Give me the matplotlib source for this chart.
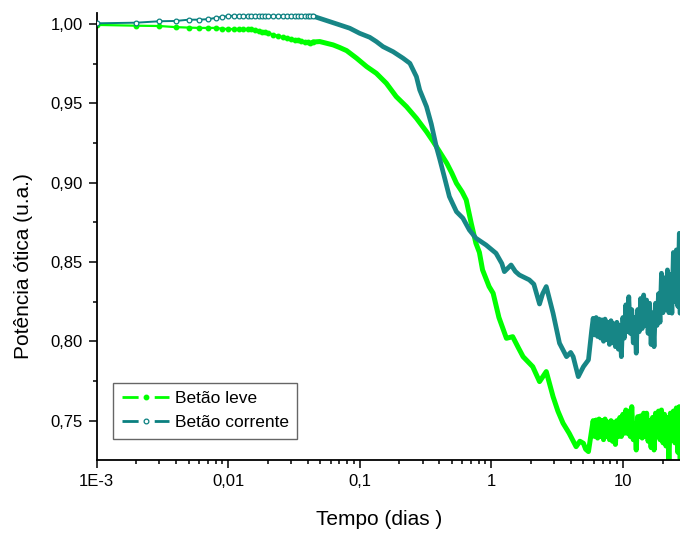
import matplotlib
matplotlib.use("Agg")
import matplotlib.pyplot as plt
from matplotlib.lines import Line2D
from matplotlib.ticker import FixedLocator, FuncFormatter, LogLocator, NullFormatter

plt.rcParams['font.family'] = ['Liberation Sans', 'DejaVu Sans']

# early readings share the same time grid (days)
t_early = [0.001, 0.002, 0.003, 0.004, 0.005, 0.006, 0.007, 0.008, 0.009, 0.010,
           0.011, 0.012, 0.013, 0.014, 0.015, 0.016, 0.017, 0.018, 0.019, 0.020,
           0.022, 0.024, 0.026, 0.028, 0.030, 0.032, 0.034, 0.036, 0.038, 0.040,
           0.042, 0.044]

# late readings (days), also shared by both series
t_late = [5.78, 5.93, 6.09, 6.25, 6.41, 6.58, 6.75, 6.93, 7.11, 7.30,
          7.49, 7.69, 7.89, 8.10, 8.31, 8.53, 8.75, 8.98, 9.22, 9.46,
          9.71, 9.97, 10.23, 10.50, 10.78, 11.06, 11.35, 11.65, 11.96, 12.27,
          12.60, 12.93, 13.27, 13.62, 13.98, 14.35, 14.72, 15.11, 15.51, 15.92,
          16.34, 16.77, 17.21, 17.66, 18.13, 18.61, 19.10, 19.60, 20.12, 20.65,
          21.19, 21.75, 22.32, 22.91, 23.52, 24.14, 24.77, 25.43, 26.10, 26.78,
          27.10]

# Betão leve (lightweight concrete)
leve_early = [0.9994, 0.9989, 0.9987, 0.9980, 0.9977, 0.9975, 0.9975, 0.9975, 0.9970, 0.9968,
              0.9968, 0.9968, 0.9968, 0.9968, 0.9966, 0.9962, 0.9958, 0.9952, 0.9950, 0.9946,
              0.9932, 0.9925, 0.9916, 0.9912, 0.9905, 0.9900, 0.9897, 0.9893, 0.9889, 0.9884,
              0.9882, 0.9886]
leve_mid_t = [0.0496, 0.056, 0.0626, 0.070, 0.0793, 0.0945, 0.1127, 0.1334, 0.159, 0.189,
              0.226, 0.269, 0.321, 0.360, 0.40, 0.458, 0.50, 0.542, 0.60, 0.643,
              0.702, 0.762, 0.81, 0.856, 0.96, 1.03, 1.14, 1.30, 1.45, 1.60,
              1.74, 2.06, 2.32, 2.61, 2.94, 3.2, 3.5, 3.9, 4.4, 4.7,
              5.0, 5.2, 5.46]
leve_mid = [0.9889, 0.9878, 0.9868, 0.9852, 0.9832, 0.9784, 0.9731, 0.9689, 0.9626, 0.9542,
            0.9479, 0.9406, 0.9321, 0.9260, 0.9200, 0.9122, 0.9060, 0.8996, 0.8940, 0.8891,
            0.8744, 0.8618, 0.8560, 0.8450, 0.8345, 0.8303, 0.8150, 0.8019, 0.8029, 0.7960,
            0.7903, 0.7840, 0.7746, 0.7809, 0.7651, 0.7560, 0.7484, 0.7420, 0.7336, 0.7370,
            0.7357, 0.7320, 0.7305]
leve_late = [0.7441, 0.7500, 0.7400, 0.7504, 0.7390, 0.7510, 0.7400, 0.7500, 0.7380, 0.7510,
             0.7400, 0.7490, 0.7380, 0.7500, 0.7370, 0.7490, 0.7350, 0.7500, 0.7400, 0.7520,
             0.7400, 0.7540, 0.7420, 0.7567, 0.7420, 0.7560, 0.7400, 0.7588, 0.7380, 0.7480,
             0.7315, 0.7525, 0.7400, 0.7530, 0.7390, 0.7547, 0.7400, 0.7547, 0.7370, 0.7500,
             0.7330, 0.7520, 0.7315, 0.7547, 0.7400, 0.7560, 0.7380, 0.7567, 0.7360, 0.7540,
             0.7340, 0.7520, 0.7250, 0.7547, 0.7380, 0.7560, 0.7360, 0.7580, 0.7300, 0.7588,
             0.7260]

# Betão corrente (normal concrete)
corrente_early = [1.0004, 1.0008, 1.0017, 1.0019, 1.0027, 1.0027, 1.0030, 1.0038, 1.0045, 1.0050,
                  1.0052, 1.0052, 1.0052, 1.0052, 1.0052, 1.0052, 1.0052, 1.0052, 1.0052, 1.0052,
                  1.0052, 1.0052, 1.0052, 1.0052, 1.0052, 1.0052, 1.0052, 1.0052, 1.0052, 1.0052,
                  1.0052, 1.0050]
corrente_mid_t = [0.0468, 0.0589, 0.0703, 0.0838, 0.0997, 0.1188, 0.1334, 0.150, 0.179, 0.213,
                  0.240, 0.269, 0.285, 0.321, 0.349, 0.381, 0.404, 0.438, 0.479, 0.542,
                  0.607, 0.679, 0.762, 0.910, 1.083, 1.20, 1.254, 1.41, 1.52, 1.63,
                  1.94, 2.10, 2.32, 2.45, 2.61, 2.94, 3.29, 3.72, 4.0, 4.18,
                  4.57, 5.0, 5.46]
corrente_mid = [1.0042, 1.0015, 0.9994, 0.9973, 0.9941, 0.9916, 0.9889, 0.9857, 0.9825, 0.9784,
                0.9752, 0.9668, 0.9584, 0.9479, 0.9370, 0.9227, 0.9150, 0.9038, 0.8912, 0.8817,
                0.8776, 0.8702, 0.8650, 0.8607, 0.8555, 0.8490, 0.8439, 0.8481, 0.8440, 0.8418,
                0.8387, 0.8360, 0.8235, 0.8300, 0.8345, 0.8177, 0.7988, 0.7903, 0.7930, 0.7903,
                0.7777, 0.7840, 0.7883]
corrente_late = [0.8072, 0.8145, 0.8040, 0.8150, 0.8030, 0.8140, 0.8020, 0.8135, 0.8000, 0.8140,
                 0.8010, 0.8120, 0.7980, 0.8130, 0.7990, 0.8110, 0.7966, 0.8120, 0.7950, 0.8100,
                 0.7903, 0.8150, 0.8020, 0.8230, 0.8060, 0.8281, 0.8050, 0.8200, 0.7990, 0.8150,
                 0.7925, 0.8200, 0.8060, 0.8270, 0.8080, 0.8292, 0.8100, 0.8260, 0.8050, 0.8240,
                 0.7980, 0.8180, 0.7966, 0.8240, 0.8100, 0.8300, 0.8120, 0.8429, 0.8180, 0.8400,
                 0.8200, 0.8450, 0.8180, 0.8420, 0.8177, 0.8560, 0.8250, 0.8576, 0.8220, 0.8681,
                 0.8177]

labels = ['Betão leve', 'Betão corrente']
green = '#00ff00'
teal = '#0a8080'
teal_band = '#178686'

fig = plt.figure(figsize=(6.8, 5.33), dpi=100)
ax = fig.add_axes([0.1422, 0.137, 0.8578, 0.8386])

t_leve = t_early + leve_mid_t + t_late
y_leve = leve_early + leve_mid + leve_late
t_cor = t_early + corrente_mid_t + t_late
y_cor = corrente_early + corrente_mid + corrente_late

# symbols stay visible while sampling is sparse; later the record becomes a solid band
n0 = len(t_early)
ax.plot(t_leve[n0 - 1:], y_leve[n0 - 1:], color=green, lw=3.6, solid_joinstyle='round',
        solid_capstyle='round', zorder=2)
ax.plot(t_leve[:n0], y_leve[:n0], color=green, lw=1.6, marker='o', ms=3.2,
        mfc=green, mec=green, zorder=2)
ax.plot(t_cor[n0 - 1:], y_cor[n0 - 1:], color=teal_band, lw=3.4, solid_joinstyle='round',
        solid_capstyle='round', zorder=3)
ax.plot(t_cor[:n0], y_cor[:n0], color=teal, lw=1.4, marker='o', ms=3.4,
        mfc='white', mec=teal, mew=0.9, zorder=3)

ax.set_xscale('log')
ax.set_xlim(1e-3, 27.1)
ax.set_ylim(0.7252, 1.0069)

xt_labels = {1e-3: '1E-3', 1e-2: '0,01', 1e-1: '0,1', 1: '1', 10: '10'}
ax.xaxis.set_major_locator(FixedLocator(list(xt_labels.keys())))
ax.xaxis.set_major_formatter(FuncFormatter(lambda v, p: xt_labels.get(round(v, 6), '')))
ax.xaxis.set_minor_locator(LogLocator(base=10, subs=[2, 3, 4, 5, 6, 7, 8, 9], numticks=20))
ax.xaxis.set_minor_formatter(NullFormatter())

ax.set_yticks([0.75, 0.80, 0.85, 0.90, 0.95, 1.00])
ax.set_yticks([0.775, 0.825, 0.875, 0.925, 0.975], minor=True)
ax.yaxis.set_major_formatter(FuncFormatter(lambda v, p: f'{v:.2f}'.replace('.', ',')))

for s in ['top', 'right']:
    ax.spines[s].set_visible(False)
for s in ['left', 'bottom']:
    ax.spines[s].set_linewidth(1.3)

ax.tick_params(which='major', direction='out', length=6, width=1.1, labelsize=12, pad=4)
ax.tick_params(which='minor', direction='out', length=3, width=1.1)

ax.set_xlabel('Tempo (dias )', fontsize=15)
ax.set_ylabel('Potência ótica (u.a.)', fontsize=15)
ax.xaxis.set_label_coords(0.484, -0.112)
ax.yaxis.set_label_coords(-0.109, 0.433)

handles = [
    Line2D([], [], color=green, lw=2, linestyle=(0, (5.8, 5.8)), marker='o', ms=3.2,
           mfc=green, mec=green),
    Line2D([], [], color=teal, lw=2, linestyle=(0, (5.8, 5.8)), marker='o', ms=3.4,
           mfc='white', mec=teal, mew=0.9),
]
leg = ax.legend(handles, labels, loc='lower left', bbox_to_anchor=(0.028, 0.047),
                borderaxespad=0, fontsize=12.5, handlelength=2.75, handletextpad=0.3,
                labelspacing=0.5, borderpad=0.5, fancybox=False, framealpha=1)
leg.get_frame().set_edgecolor('#666666')
leg.get_frame().set_linewidth(1.0)

fig.savefig('out.png', dpi=100)
